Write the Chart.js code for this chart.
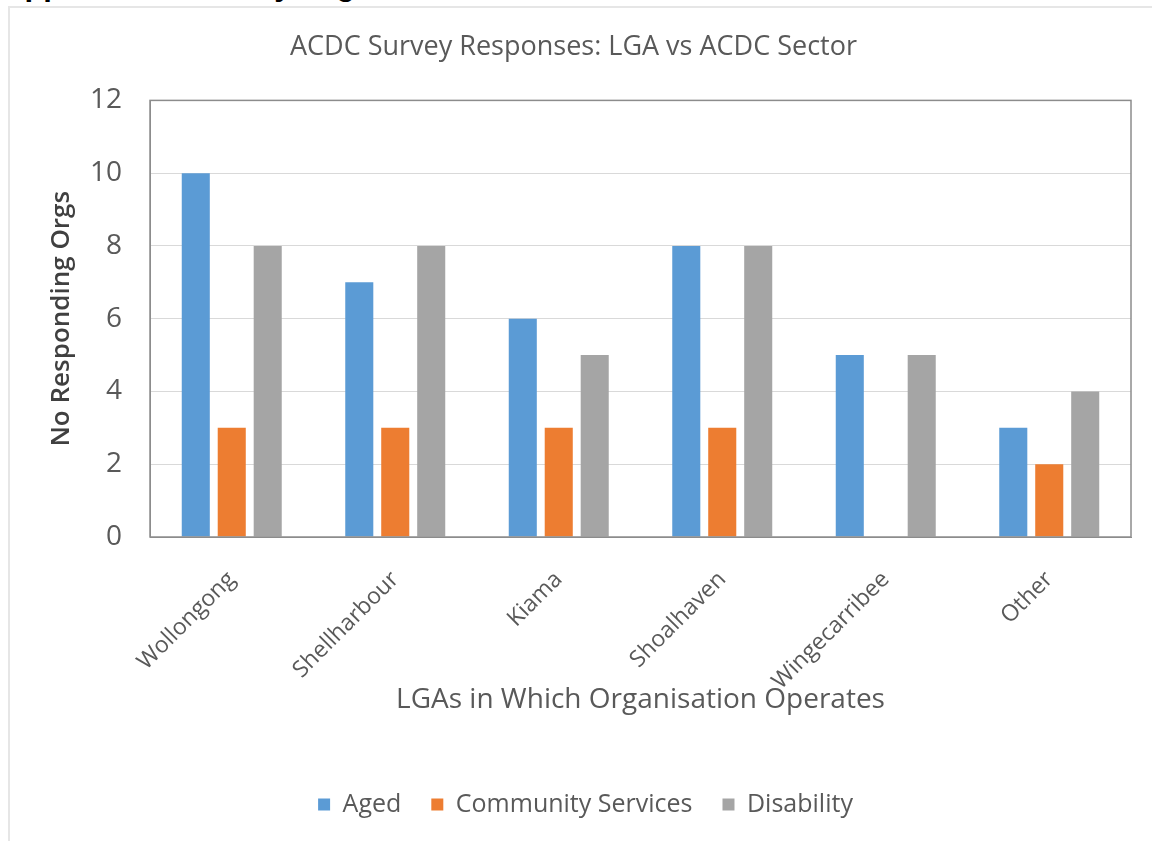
<!DOCTYPE html>
<html>
<head>
<meta charset="utf-8">
<script src="https://cdn.jsdelivr.net/npm/chart.js@4.4.1/dist/chart.umd.min.js"></script>
<style>
  html, body { margin: 0; padding: 0; background: #fff; overflow: hidden; }
  #page { position: relative; width: 1152px; height: 841px; overflow: hidden; }
  #heading { position: absolute; left: 2px; top: -33px; font: bold 31px "Liberation Sans", Arial, sans-serif; color: #000; white-space: nowrap; }
  #frame { position: absolute; left: 8px; top: 6px; right: 0; bottom: 0; border-top: 2px solid #e6e6e6; border-left: 2px solid #e6e6e6; }
  #wrap { position: absolute; left: 0; top: 0; width: 1152px; height: 841px; }
</style>
</head>
<body>
<div id="page">
  <div id="heading">Appendix 3: Survey Organisations</div>
  <div id="frame"></div>
  <div id="wrap"><canvas id="chart"></canvas></div>
</div>
<script>
const lgas = ['Wollongong', 'Shellharbour', 'Kiama', 'Shoalhaven', 'Wingecarribee', 'Other'];
const aged = [10, 7, 6, 8, 5, 3];
const communityServices = [3, 3, 3, 3, 0, 2];
const disability = [8, 8, 5, 8, 5, 4];
const yTicks = [0, 2, 4, 6, 8, 10, 12];

const fontFamily = '"Open Sans", Lato, sans-serif';
const textColor = '#595959';

// box round the plot area, and nudge title / legend sideways like the original
const plotBox = {
    id: 'plotBox',
    afterLayout(chart) {
        chart.titleBlock.left += 8;
        chart.titleBlock.right += 8;
        chart.legend.left += 20;
        chart.legend.right += 20;
    },
    afterDraw(chart) {
        const a = chart.chartArea;
        const ctx = chart.ctx;
        ctx.save();
        ctx.strokeStyle = '#8c8c8c';
        ctx.lineWidth = 1.5;
        ctx.strokeRect(a.left, a.top, a.right - a.left, a.bottom - a.top);
        ctx.restore();
    }
};

new Chart(document.getElementById('chart').getContext('2d'), {
    type: 'bar',
    data: {
        labels: lgas,
        datasets: [
            { label: 'Aged', data: aged, backgroundColor: '#5B9BD5' },
            { label: 'Community Services', data: communityServices, backgroundColor: '#ED7D31' },
            { label: 'Disability', data: disability, backgroundColor: '#A5A5A5' }
        ]
    },
    options: {
        responsive: true,
        maintainAspectRatio: false,
        animation: false,
        categoryPercentage: 0.66,
        barPercentage: 0.78,
        layout: { padding: { left: 0, right: 21, top: 0, bottom: 14 } },
        plugins: {
            title: {
                display: true,
                text: 'ACDC Survey Responses: LGA vs ACDC Sector',
                color: textColor,
                font: { family: fontFamily, size: 27, weight: 'normal' },
                padding: { top: 31, bottom: 37 }
            },
            legend: {
                position: 'bottom',
                labels: {
                    color: textColor,
                    font: { family: fontFamily, size: 25 },
                    boxWidth: 12,
                    boxHeight: 12,
                    padding: 30
                }
            },
            tooltip: { enabled: false }
        },
        scales: {
            x: {
                grid: { display: false, drawTicks: false },
                border: { display: true, color: '#8c8c8c' },
                ticks: {
                    color: textColor,
                    font: { family: fontFamily, size: 23 },
                    minRotation: 45,
                    maxRotation: 45,
                    padding: 29
                },
                title: {
                    display: true,
                    text: 'LGAs in Which Organisation Operates',
                    color: textColor,
                    font: { family: fontFamily, size: 28 },
                    padding: { top: 45, bottom: 45 }
                },
                afterFit(scale) { scale.height = 225; }
            },
            y: {
                min: 0,
                max: 12,
                afterBuildTicks(scale) { scale.ticks = yTicks.map(v => ({ value: v })); },
                grid: { color: '#d9d9d9', drawTicks: false, lineWidth: 1 },
                border: { display: true, color: '#8c8c8c' },
                ticks: {
                    color: textColor,
                    font: { family: fontFamily, size: 28 },
                    padding: 28
                },
                title: {
                    display: true,
                    text: 'No Responding Orgs',
                    color: '#404040',
                    font: { family: fontFamily, size: 26, weight: '600' },
                    padding: { top: 46, bottom: 46 }
                },
                afterFit(scale) { scale.width = 150; }
            }
        }
    },
    plugins: [plotBox]
});
</script>
</body>
</html>
